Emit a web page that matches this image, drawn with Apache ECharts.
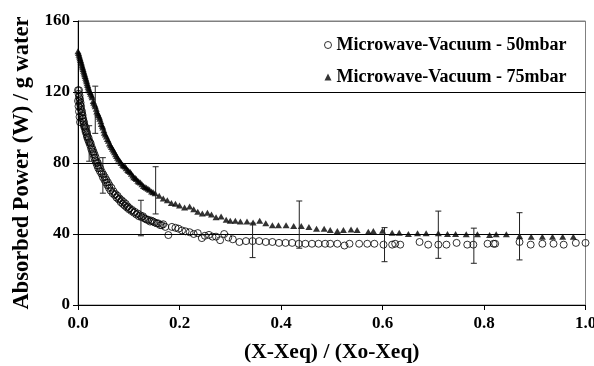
<!DOCTYPE html>
<html>
<head>
<meta charset="utf-8">
<script src="https://cdn.jsdelivr.net/npm/echarts@6/dist/echarts.min.js"></script>
<style>html,body{margin:0;padding:0;background:#fff}#c{width:594px;height:366px}</style>
</head>
<body>
<div id="c"></div>
<script>
// ---- data ----
const xTicks = [0, 0.2, 0.4, 0.6, 0.8, 1.0];
const yTicks = [0, 40, 80, 120, 160];
const seriesNames = ['Microwave-Vacuum - 50mbar', 'Microwave-Vacuum - 75mbar'];

// 50 mbar (open circles)
const x50 = [0.000,0.001,0.002,0.003,0.004,0.005,0.006,0.007,0.008,0.009,0.010,0.011,0.012,0.014,0.015,0.017,0.018,0.020,0.022,0.024,0.026,0.028,0.030,0.032,0.034,0.036,0.038,0.040,0.043,0.046,0.049,0.052,0.055,0.058,0.061,0.064,0.068,0.072,0.076,0.080,0.084,0.088,0.092,0.096,0.100,0.105,0.110,0.115,0.120,0.125,0.130,0.136,0.142,0.148,0.155,0.162,0.168,0.172,0.178,0.185,0.192,0.198,0.205,0.212,0.220,0.228,0.236,0.244,0.250,0.258,0.265,0.272,0.280,0.288,0.296,0.305,0.318,0.331,0.344,0.357,0.370,0.383,0.396,0.409,0.422,0.435,0.448,0.461,0.474,0.487,0.497,0.511,0.525,0.535,0.554,0.570,0.584,0.602,0.619,0.625,0.635,0.673,0.690,0.710,0.726,0.746,0.767,0.779,0.807,0.819,0.822,0.870,0.892,0.915,0.937,0.957,0.981,1.000];
const y50 = [121,119,117,115,113,111,110,108,106.5,105,103.5,102,100.5,99,97.5,96,94.5,93,91.5,90,88,86.5,85,83,81.5,80,78.5,77,75.5,74,72,70.5,69,67.5,66,64.5,63,62,60.5,59.5,58,57,56,55,54,53,52,51,50,49.5,49,48,47,47,46,45,45.5,44,39.4,44,43.5,43,42,41.5,41,40,40.5,37.7,39,39.5,38.5,38.5,36.5,40,38,37,35.5,36,36,36,35.5,35.5,35,35,35,34.5,34.5,34.5,34.5,34.5,34.5,34.5,33.5,34.5,34.5,34.5,34.5,34,34,34.5,34,35.5,34,34,34,35,34,34,34.5,34.5,34.5,35.5,34,34.5,34.5,34,35,35];
// 50 mbar, second (scattered) run in the dense early part
const x50b = [0.000,0.001,0.002,0.002,0.003,0.003,0.004,0.004,0.005,0.006,0.008,0.009,0.010,0.012,0.013,0.015,0.016,0.018,0.019,0.021,0.023,0.025,0.027,0.029,0.031,0.033,0.035,0.037,0.039,0.041,0.044,0.047,0.050,0.053,0.056,0.059,0.062,0.066,0.070,0.074,0.078,0.082,0.086,0.090,0.094,0.098,0.102,0.107,0.112,0.118,0.123,0.128,0.133,0.139,0.145,0.151,0.158,0.165];
const y50b = [115,112,121,109,118,106,116,103,114,112,109,107,105,103,101,100,98,97,95,94,92,91,89,87.5,86,84.5,83,81,80,78.5,77,75,73.5,72,70.5,69,67.5,66,64,62.5,61.5,60,59,58,57,55.5,54.5,53.5,52.5,51.5,50.5,50,48.5,48,47.5,46.5,46,45];

// 75 mbar (filled triangles)
const x75 = [0.000,0.002,0.004,0.006,0.008,0.010,0.012,0.014,0.016,0.018,0.020,0.022,0.025,0.028,0.031,0.034,0.037,0.040,0.043,0.046,0.049,0.052,0.056,0.060,0.064,0.068,0.072,0.076,0.080,0.085,0.090,0.095,0.100,0.105,0.110,0.115,0.120,0.126,0.132,0.138,0.145,0.152,0.160,0.168,0.176,0.184,0.192,0.200,0.210,0.220,0.228,0.236,0.245,0.255,0.263,0.272,0.282,0.292,0.300,0.310,0.320,0.333,0.345,0.358,0.370,0.383,0.395,0.410,0.425,0.440,0.455,0.470,0.485,0.497,0.511,0.523,0.538,0.550,0.572,0.582,0.600,0.619,0.633,0.651,0.669,0.686,0.710,0.728,0.744,0.765,0.787,0.811,0.824,0.844,0.870,0.893,0.915,0.935,0.955,0.976];
const y75 = [143,141,139,137,135,133,131,129,127,125,123,121,119,117,114,112,109,107,105,102,100,97,95,92.5,90,88,86,84,82,80,78.5,77,75.5,74,72,71,69.5,68,66.5,65.5,64,63,61.5,60,59,57.5,57,56,55,55.5,54,52.5,51.5,52,51,49.5,49.8,48,47.5,47.5,47,47,46.5,47.5,46,45,45,45,44.5,44.5,44,43,43,42.3,41.7,42.3,42.6,42.3,41.3,41.7,41.9,40.7,40.7,40,40.4,40.4,40.4,40,40,39.8,39.8,39.4,39.8,39.8,38.9,38.5,38.5,38.5,38.5,38.5];
// 75 mbar, second run in the dense early part
const x75b = [0.001,0.003,0.005,0.007,0.009,0.011,0.013,0.015,0.017,0.019,0.021,0.024,0.027,0.030,0.033,0.036,0.039,0.042,0.045,0.048,0.051,0.054,0.058,0.062,0.066,0.070,0.074,0.078,0.083,0.088,0.093,0.098,0.103,0.108,0.113,0.118,0.123,0.129,0.135,0.141,0.148];
const y75b = [142,140,138,136,134,132,130,128,126,124,122,120,118,115,113,110.5,108,106,103.5,101,98.5,96,93.5,91,89,87,85,83,81,79,78,76,75,73,71.5,70,69,67,66,65,63.5];

// error bars (x, centre, half-width)
const errX = [0.022,0.034,0.049,0.124,0.153,0.344,0.436,0.604,0.710,0.780,0.870];
const errY = [91,110,73,49,64.6,36.4,45.3,34,39.6,33.4,38.7];
const errD = [10,13.3,10,10,13.3,9.7,13.3,9.6,13.3,9.9,13.3];

// ---- chart ----
const FONT = '"Liberation Serif","Times New Roman",serif';
const pts50 = x50.map((v,i)=>[v,y50[i]]).concat(x50b.map((v,i)=>[v,y50b[i]]));
const pts75 = x75.map((v,i)=>[v,y75[i]]).concat(x75b.map((v,i)=>[v,y75b[i]]));
const errData = errX.map((v,i)=>[v, errY[i]-errD[i], errY[i]+errD[i]]);

const chart = echarts.init(document.getElementById('c'), null, {renderer:'canvas'});
chart.setOption({
  animation:false,
  backgroundColor:'#fff',
  grid:{left:78, right:8.5, top:21, bottom:61, containLabel:false, outerBoundsMode:'none',
        show:true, borderColor:'#808080', borderWidth:1},
  legend:{
    left:319, top:31, orient:'vertical', itemGap:14, itemWidth:7, itemHeight:7,
    textStyle:{fontFamily:FONT, fontWeight:'bold', fontSize:18, color:'#000'},
    data:[{name:seriesNames[0], icon:'circle', itemStyle:{color:'#fff', borderColor:'#000', borderWidth:1}},
          {name:seriesNames[1], icon:'triangle', itemStyle:{color:'#000'}}]
  },
  xAxis:{
    type:'value', min:xTicks[0], max:xTicks[xTicks.length-1], interval:0.2,
    name:'(X-Xeq) / (Xo-Xeq)', nameLocation:'middle', nameGap:36,
    nameTextStyle:{fontFamily:FONT, fontWeight:'bold', fontSize:21.5, color:'#000'},
    axisLine:{lineStyle:{color:'#000', width:1}},
    axisTick:{show:true, inside:false, length:5, lineStyle:{color:'#000'}},
    axisLabel:{fontFamily:FONT, fontWeight:'bold', fontSize:17, color:'#000', margin:10,
      hideOverlap:false, showMaxLabel:true, formatter:v=>v.toFixed(1)},
    splitLine:{show:false}
  },
  yAxis:{
    type:'value', min:yTicks[0], max:yTicks[yTicks.length-1], interval:40,
    name:'Absorbed Power (W) / g water', nameLocation:'middle', nameGap:41,
    nameTextStyle:{fontFamily:FONT, fontWeight:'bold', fontSize:22.5, color:'#000'},
    axisLine:{show:true, lineStyle:{color:'#000', width:1}},
    axisTick:{show:true, inside:false, length:5, lineStyle:{color:'#000'}},
    axisLabel:{fontFamily:FONT, fontWeight:'bold', fontSize:17, color:'#000', margin:8},
    splitLine:{show:true, lineStyle:{color:['#000','#000','#000','#000','#808080'], width:1}}
  },
  series:[
    {name:seriesNames[0], type:'scatter', data:pts50, symbol:'circle', symbolSize:7,
     itemStyle:{color:'rgba(255,255,255,0)', borderColor:'#000', borderWidth:1}, z:3},
    {name:seriesNames[1], type:'scatter', data:pts75, symbol:'triangle', symbolSize:[7,6],
     itemStyle:{color:'#000'}, z:3},
    {type:'custom', data:errData, z:5, silent:true,
     renderItem:function(params, api){
       const lo = api.coord([api.value(0), api.value(1)]);
       const hi = api.coord([api.value(0), api.value(2)]);
       const w = 3;
       const st = {stroke:'#222', lineWidth:1, fill:null};
       return {type:'group', children:[
         {type:'line', shape:{x1:lo[0], y1:lo[1], x2:hi[0], y2:hi[1]}, style:st},
         {type:'line', shape:{x1:lo[0]-w, y1:lo[1], x2:lo[0]+w, y2:lo[1]}, style:st},
         {type:'line', shape:{x1:hi[0]-w, y1:hi[1], x2:hi[0]+w, y2:hi[1]}, style:st}
       ]};
     }}
  ]
});
</script>
</body>
</html>
